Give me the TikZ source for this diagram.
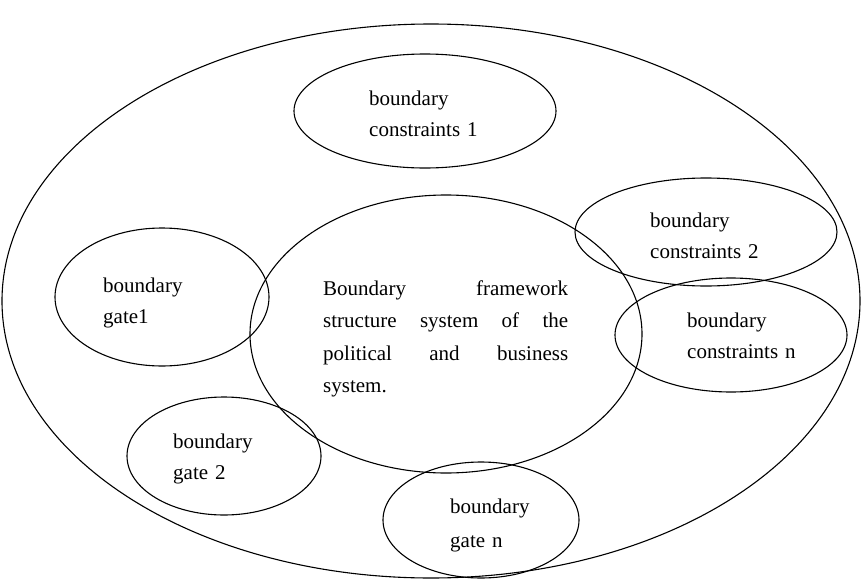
\documentclass[tikz,border=0pt]{standalone}
\usepackage{fontspec}
\setmainfont{Liberation Serif}
\usetikzlibrary{shapes.geometric}

\tikzset{
  bubble/.style={draw,ellipse,line width=1.1pt,inner sep=0pt},
  words/.style={anchor=base west,inner sep=0pt,text width=#1,align=left,
    font=\fontsize{21}{31}\selectfont},
  words/.default=6cm
}

\begin{document}
\begin{tikzpicture}[x=1pt,y=-1pt]
\useasboundingbox (0,0) rectangle (863,581);

% the bubbles
\path
    (431,301) node [bubble,minimum width=858pt,minimum height=554pt] (world)  {}
    (425,111) node [bubble,minimum width=262pt,minimum height=114pt] (bc1)    {}
    (446,334) node [bubble,minimum width=392pt,minimum height=278pt] (frame)  {}
    (162,297) node [bubble,minimum width=214pt,minimum height=138pt] (gate1)  {}
    (706,232) node [bubble,minimum width=262pt,minimum height=108pt] (bc2)    {}
    (731,335) node [bubble,minimum width=232pt,minimum height=114pt] (bcn)    {}
    (224,456) node [bubble,minimum width=194pt,minimum height=118pt] (gate2)  {}
    (481,520) node [bubble,minimum width=196pt,minimum height=116pt] (gaten)  {};

% the texts
\path
    (369,105) node [words] (bc1txt)   {boundary\\constraints 1}
    (103,292) node [words] (gate1txt) {boundary\\gate1}
    (650,227) node [words] (bc2txt)   {boundary\\constraints 2}
    (687,327) node [words] (bcntxt)   {boundary\\constraints n}
    (173,448) node [words] (gate2txt) {boundary\\gate 2}
    (450,513) node [words,font=\fontsize{21}{34}\selectfont] (gatentxt) {boundary\\gate n}
    (323,295) node [words=245pt,align=justify,font=\fontsize{21}{32.5}\selectfont] (frametxt)
      {Boundary framework\linebreak structure system of the\linebreak
       political and business\linebreak system.};
\end{tikzpicture}
\end{document}
